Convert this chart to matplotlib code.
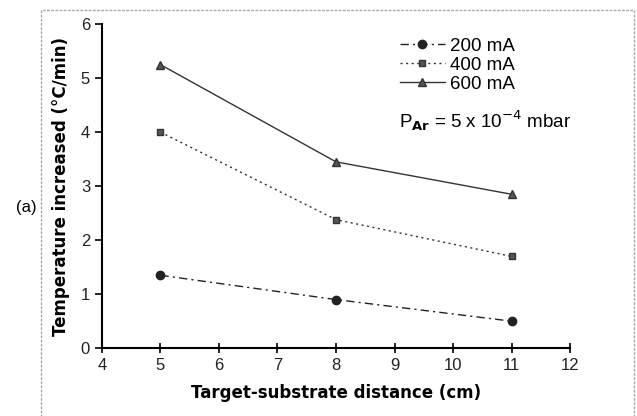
import matplotlib
matplotlib.use('Agg')
import matplotlib.pyplot as plt
from matplotlib.patches import Rectangle

# distance (cm) and temperature rise (°C/min) per discharge current
distance = [5, 8, 11]
temp_200 = [1.35, 0.90, 0.50]
temp_400 = [4.00, 2.38, 1.70]
temp_600 = [5.25, 3.45, 2.85]

fig = plt.figure(figsize=(6.37, 4.16), dpi=100)
ax = fig.add_axes([0.160, 0.163, 0.735, 0.779])

# scanned page frame
fig.patches.append(Rectangle((0.065, -0.05), 0.93, 1.026, transform=fig.transFigure,
                             fill=False, ec='#aaaaaa', lw=1.0, ls=(0, (2, 1))))

ax.plot(distance, temp_200, color='#222222', ls=(0, (6, 3, 1.5, 3)), lw=1.0,
        marker='o', ms=6, label='200 mA')
ax.plot(distance, temp_400, color='#333333', ls=(0, (1.5, 2.5)), lw=1.0,
        marker='s', ms=5, mfc='#555555', label='400 mA')
ax.plot(distance, temp_600, color='#333333', ls='-', lw=1.0,
        marker='^', ms=6, mfc='#555555', label='600 mA')

ax.set_xlim(4, 12)
ax.set_ylim(0, 6)
ax.set_xticks(range(4, 13))
ax.set_yticks(range(0, 7))
ax.spines['top'].set_visible(False)
ax.spines['right'].set_visible(False)
ax.spines['left'].set_linewidth(1.5)
ax.spines['bottom'].set_linewidth(1.5)
ax.tick_params(axis='x', direction='inout', length=7, width=1.2)
ax.tick_params(axis='y', direction='out', length=5, width=1.2)
for lab in ax.get_xticklabels() + ax.get_yticklabels():
    lab.set_family('Liberation Sans')
    lab.set_fontsize(12)
    lab.set_color('#222222')

ax.set_xlabel('Target-substrate distance (cm)', fontsize=12, fontweight='bold',
              labelpad=8)
ax.set_ylabel('Temperature increased (°C/min)', fontsize=12, fontweight='bold',
              labelpad=8)

ax.legend(loc='upper left', bbox_to_anchor=(0.6, 1.01), frameon=False,
          prop={'family': 'Liberation Sans', 'size': 13.5},
          handlelength=2.4, handletextpad=0.3, labelspacing=0.1)
ax.text(0.635, 0.68, r'P$_{\mathbf{Ar}}$ = 5 x 10$^{-4}$ mbar', transform=ax.transAxes,
        fontsize=13.5, family='Liberation Sans')
fig.text(0.025, 0.49, '(a)', fontsize=12, family='Liberation Sans')

plt.savefig('out.png', dpi=100)
